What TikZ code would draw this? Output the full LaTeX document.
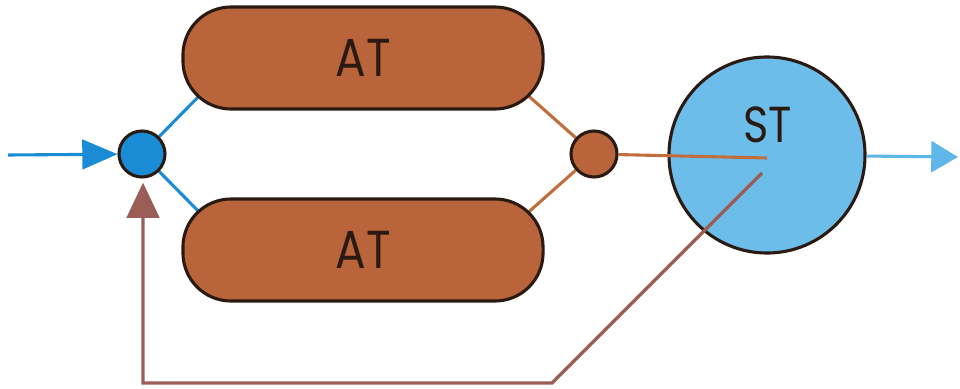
\documentclass[tikz,border=0pt]{standalone}
\usepackage{fontspec}
\setmainfont{Poppins}
\usetikzlibrary{arrows.meta,backgrounds}
\definecolor{atfill}{HTML}{B9643A}
\definecolor{edge}{HTML}{2A1A12}
\definecolor{jblue}{HTML}{1A8CD6}
\definecolor{stblue}{HTML}{6CBDEA}
\definecolor{outblue}{HTML}{5FB6E8}
\definecolor{brline}{HTML}{C06E3E}
\definecolor{fbline}{HTML}{9A5E56}
\newcommand{\narrowtxt}[1]{\scalebox{0.85}[1]{#1}}
\tikzset{
  atbox/.style={draw=edge, line width=2.2pt, fill=atfill, rounded corners=1.2cm,
    minimum width=9cm, minimum height=2.55cm, inner sep=0pt,
    font=\fontsize{38}{40}\selectfont, text=edge},
  junction/.style={circle, draw=edge, line width=2.2pt, minimum size=1.15cm, inner sep=0pt},
  stcircle/.style={circle, draw=edge, line width=2.2pt, fill=stblue, minimum size=4.9cm,
    inner sep=0pt},
  blueln/.style={jblue, line width=2.2pt},
  brownln/.style={brline, line width=2.2pt},
  fbln/.style={fbline, line width=2.4pt},
}
\begin{document}
\begin{tikzpicture}[x=0.025cm, y=-0.025cm]
\useasboundingbox (0,0) rectangle (960,388);
\node[atbox] (at1) at (363,58) {\narrowtxt{AT}};
\node[atbox] (at2) at (363,250) {\narrowtxt{AT}};
\node[junction, fill=jblue] (bj) at (142,154) {};
\node[junction, fill=atfill] (mj) at (594,154) {};
\node[stcircle] (st) at (767,155) {};
\node[font=\fontsize{36}{38}\selectfont, text=edge] (stl) at (768,125) {\narrowtxt{ST}};
\coordinate (in) at (8,155);
\coordinate (out) at (958,157);
\coordinate (stc) at (767,158);
\coordinate (stf) at (762,173);
\coordinate (c1) at (552,383);
\coordinate (c2) at (143,383);
\coordinate (bjb) at (143,177);
\begin{scope}[on background layer]
\draw[blueln] (bj) -- ([shift={(30,-27)}]at1.south west);
\draw[blueln] (bj) -- ([shift={(30,27)}]at2.north west);
\draw[brownln] (mj) -- ([shift={(-30,-27)}]at1.south east);
\draw[brownln] (mj) -- ([shift={(-30,27)}]at2.north east);
\end{scope}
\draw[brownln] (mj) -- (stc);
\draw[fbln, -{Triangle[length=25pt,width=23pt]}, shorten >=4pt] (stf) -- (c1) -- (c2) -- (bjb);
\draw[blueln, -{Triangle[length=25pt,width=21pt]}] (in) -- (bj);
\draw[outblue, line width=2.2pt, -{Triangle[length=19pt,width=22pt]}] (st) -- (out);
\end{tikzpicture}
\end{document}
